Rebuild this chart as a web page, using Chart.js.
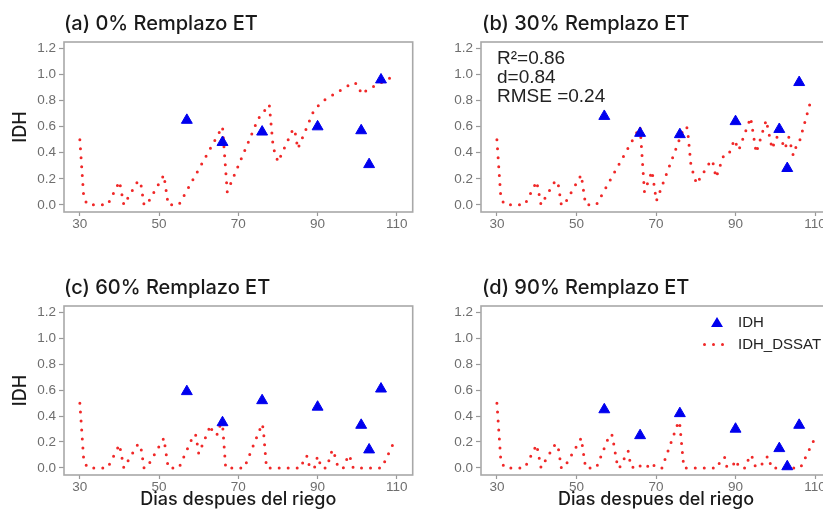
<!DOCTYPE html>
<html>
<head>
<meta charset="utf-8">
<script src="https://cdn.jsdelivr.net/npm/chart.js@4.4.0/dist/chart.umd.min.js"></script>
<style>
html, body { margin: 0; padding: 0; overflow: hidden; background: #fff; }
body { width: 823px; height: 509px; position: relative; }
.panel { position: absolute; }
.titulo { position: absolute; font-family: Inter, sans-serif; font-size: 20px; font-weight: 500; line-height: 24px; color: #1a1a1a; white-space: nowrap; }
.nota { position: absolute; left: 497px; top: 48px; font-family: "Liberation Sans", Arial, sans-serif; font-size: 19px; line-height: 19px; color: #222; }
.leyenda { position: absolute; font-family: "Liberation Sans", Arial, sans-serif; font-size: 15px; line-height: 18px; color: #222; white-space: nowrap; }
.tri { position: absolute; width: 0; height: 0; border-left: 6px solid transparent; border-right: 6px solid transparent; border-bottom: 10px solid #0000ee; }
.punto { position: absolute; width: 3px; height: 3px; border-radius: 50%; background: #f02828; }
</style>
</head>
<body>

<div class="panel" style="left:0px;top:0px"><canvas id="cA" width="420" height="255"></canvas></div>
<div class="panel" style="left:410px;top:0px"><canvas id="cB" width="430" height="255"></canvas></div>
<div class="panel" style="left:0px;top:255px"><canvas id="cC" width="420" height="254"></canvas></div>
<div class="panel" style="left:410px;top:255px"><canvas id="cD" width="430" height="254"></canvas></div>

<div class="titulo" style="left:64px;top:11px">(a) 0% Remplazo ET</div>
<div class="titulo" style="left:482px;top:11px">(b) 30% Remplazo ET</div>
<div class="titulo" style="left:64px;top:275px">(c) 60% Remplazo ET</div>
<div class="titulo" style="left:482px;top:275px">(d) 90% Remplazo ET</div>

<div class="nota">R²=0.86<br>d=0.84<br>RMSE =0.24</div>

<div class="tri" style="left:711px;top:317px"></div>
<div class="leyenda" style="left:738px;top:313px">IDH</div>
<div class="punto" style="left:703px;top:343px"></div>
<div class="punto" style="left:712px;top:343px"></div>
<div class="punto" style="left:721px;top:343px"></div>
<div class="leyenda" style="left:738px;top:335px">IDH_DSSAT</div>

<script>
// dias con IDH medido (triangulos)
const diasObs = [57, 66, 76, 90, 101, 103, 106];
const idhObsA = [0.65, 0.48, 0.56, 0.60, 0.57, 0.31, 0.96];
const idhObsB = [0.68, 0.55, 0.54, 0.64, 0.58, 0.28, 0.94];
const idhObsC = [0.59, 0.35, 0.52, 0.47, 0.33, 0.14, 0.61];
const idhObsD = [0.45, 0.25, 0.42, 0.30, 0.15, 0.01, 0.33];

// IDH simulado DSSAT (linea punteada)
const diasSimA = [30, 31, 32, 37, 40, 41.1, 44.6, 45.3, 46.2, 46.9, 51.2, 52.3, 55, 66, 67.2, 75, 77.8, 78.8, 80, 83.8, 84.2, 85, 89, 91, 99, 100.3, 101, 103, 110];
const idhSimA  = [0.50, 0.05, 0, 0, 0.18, 0, 0.18, 0.18, 0, 0, 0.23, 0, 0, 0.60, 0.10, 0.66, 0.77, 0.44, 0.33, 0.58, 0.58, 0.43, 0.72, 0.79, 0.94, 0.92, 0.85, 0.89, 1.00];

const diasSimB = [30, 31, 32, 37, 40, 41.1, 44.6, 45.3, 46.2, 46.9, 51.2, 52.3, 55, 66, 67.1, 69, 70.1, 77.1, 77.9, 78.8, 80.2, 83.8, 84.2, 85.1, 86.9, 88.2, 89.7, 90.8, 93.8, 95.2, 97.7, 99.2, 100.3, 101.5, 102.4, 103.4, 104.5, 105.5, 106.2, 109.2];
const idhSimB  = [0.50, 0.05, 0, 0, 0.18, 0, 0.18, 0.18, 0, 0, 0.23, 0, 0, 0.60, 0.10, 0.26, 0.03, 0.60, 0.59, 0.30, 0.16, 0.34, 0.34, 0.21, 0.37, 0.38, 0.50, 0.42, 0.67, 0.40, 0.65, 0.43, 0.52, 0.50, 0.43, 0.52, 0.38, 0.47, 0.50, 0.83];

const diasSimC = [30, 31, 32, 37, 40, 41.1, 44.6, 45.3, 46.2, 46.9, 51.2, 52.3, 55, 58.8, 59.3, 60, 63, 63.6, 64.8, 65.4, 66, 66.8, 71.5, 76, 76.3, 77.1, 85.8, 86.8, 87.4, 88, 89.2, 90, 91, 92.3, 93.7, 94.1, 95.2, 96.5, 97.8, 98.2, 99, 106.2, 109.6];
const idhSimC  = [0.50, 0.05, 0, 0, 0.18, 0, 0.18, 0.18, 0, 0, 0.23, 0, 0, 0.26, 0.25, 0.11, 0.33, 0.26, 0.26, 0.33, 0.34, 0, 0, 0.34, 0.30, 0, 0, 0.09, 0.09, 0, 0, 0.09, 0, 0, 0.14, 0.12, 0, 0, 0.10, 0.08, 0, 0, 0.22];

const diasSimD = [30, 31, 32, 37, 40, 41.1, 44.6, 45.3, 46.2, 46.9, 51.2, 52.3, 55, 58.4, 59, 60.4, 60.8, 63, 63.3, 64, 65.5, 66.5, 67.5, 68.9, 70, 71.5, 75.7, 76, 77, 85.5, 86.3, 87.3, 87.8, 89.2, 90, 91, 92.5, 93.6, 94.1, 95, 96.3, 97.6, 98.3, 99, 106.3, 109.8];
const idhSimD  = [0.50, 0.05, 0, 0, 0.18, 0, 0.18, 0.18, 0, 0, 0.23, 0, 0, 0.26, 0.25, 0, 0, 0.13, 0.07, 0, 0.03, 0, 0, 0.04, 0, 0, 0.36, 0.33, 0, 0, 0.07, 0.08, 0.01, 0.01, 0.06, 0, 0, 0.10, 0.09, 0.01, 0.01, 0.08, 0.09, 0, 0, 0.22];

const xTicks = [30, 50, 70, 90, 110];
const yTicks = [0, 0.2, 0.4, 0.6, 0.8, 1.0, 1.2];

// marco gris alrededor del panel
const marco = {
    id: 'marco',
    afterDatasetsDraw(chart) {
        const a = chart.chartArea;
        const ctx = chart.ctx;
        ctx.save();
        ctx.strokeStyle = '#a8a8a8';
        ctx.lineWidth = 1.6;
        ctx.strokeRect(a.left, a.top, a.right - a.left, a.bottom - a.top);
        ctx.restore();
    }
};

const fuenteTicks = {family: 'Liberation Sans', size: 13.5};

function crearPanel(id, diasSim, idhSim, idhObs, conf) {
    const ctx = document.getElementById(id).getContext('2d');
    return new Chart(ctx, {
        type: 'scatter',
        data: {
            datasets: [{
                label: 'IDH',
                data: diasObs.map((d, i) => ({x: d, y: idhObs[i]})),
                pointStyle: 'triangle',
                pointRadius: 6.3,
                backgroundColor: '#0000ee',
                borderColor: '#0000ee',
                borderWidth: 1
            }, {
                label: 'IDH_DSSAT',
                data: diasSim.map((d, i) => ({x: d, y: idhSim[i]})),
                showLine: true,
                pointRadius: 0,
                borderColor: '#f02828',
                borderWidth: 3,
                borderDash: [0, 9],
                borderCapStyle: 'round',
                tension: 0
            }]
        },
        options: {
            responsive: false,
            animation: false,
            layout: {padding: {top: conf.arriba, right: conf.der, left: 0, bottom: 0}},
            plugins: {legend: {display: false}, tooltip: {enabled: false}},
            scales: {
                x: {
                    type: 'linear', min: 26, max: 114,
                    afterBuildTicks: s => { s.ticks = xTicks.map(v => ({value: v})) },
                    afterFit: s => { s.height = conf.abajo },
                    grid: {drawOnChartArea: false, tickLength: 4, tickColor: '#999', tickWidth: 1.2},
                    border: {display: false},
                    ticks: {color: '#6e6e6e', font: fuenteTicks, padding: 0, maxRotation: 0, autoSkip: false},
                    title: {display: conf.tituloX, text: 'Dias despues del riego', color: '#1a1a1a',
                        font: {family: 'Inter', size: 18, weight: 500, lineHeight: 1}, padding: {top: 0, bottom: 0}}
                },
                y: {
                    type: 'linear', min: -0.055, max: 1.25,
                    afterBuildTicks: s => { s.ticks = yTicks.map(v => ({value: v})) },
                    afterFit: s => { s.width = conf.izq },
                    grid: {drawOnChartArea: false, tickLength: 5, tickColor: '#999', tickWidth: 1.2},
                    border: {display: false},
                    ticks: {color: '#6e6e6e', font: fuenteTicks, padding: 3, autoSkip: false,
                        callback: v => v.toFixed(1)},
                    title: {display: conf.tituloY, text: 'IDH', color: '#1a1a1a',
                        font: {family: 'Inter', size: 18, weight: 500}, padding: {top: 10, bottom: 0}}
                }
            }
        },
        plugins: [marco]
    });
}

crearPanel('cA', diasSimA, idhSimA, idhObsA, {izq: 64, arriba: 42, abajo: 43, der: 7, tituloX: false, tituloY: true});
crearPanel('cB', diasSimB, idhSimB, idhObsB, {izq: 71, arriba: 42, abajo: 43, der: 9, tituloX: false, tituloY: false});
crearPanel('cC', diasSimC, idhSimC, idhObsC, {izq: 64, arriba: 51, abajo: 34, der: 7, tituloX: true, tituloY: true});
crearPanel('cD', diasSimD, idhSimD, idhObsD, {izq: 71, arriba: 51, abajo: 34, der: 9, tituloX: true, tituloY: false});
</script>
</body>
</html>
